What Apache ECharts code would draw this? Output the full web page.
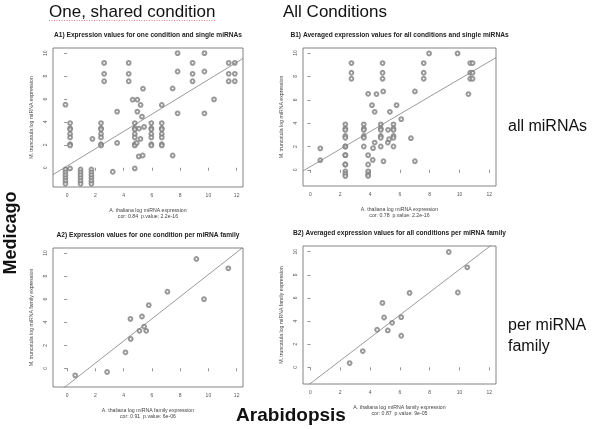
<!DOCTYPE html>
<html><head><meta charset="utf-8">
<script src="https://cdn.jsdelivr.net/npm/echarts@6/dist/echarts.min.js"></script>
<style>html,body{margin:0;padding:0;background:#fff}#c{width:600px;height:429px}</style>
</head><body><div id="c"></div>
<script>
// ---------- data ----------
const xTicks = [0, 2, 4, 6, 8, 10, 12];
const yTicks = [0, 2, 4, 6, 8, 10];

// A1: one condition, single miRNAs
const a1x = [-0.12,-0.12,-0.12,-0.12,-0.12,-0.12,-0.12,
  0.21,0.21,0.21,0.21,0.21,0.21,0.21,0.21,
  0.95,0.95,0.95,0.95,0.95,0.95,
  1.72,1.72,1.72,1.72,1.72,1.72, 1.79,
  2.4,2.4,2.4,2.4,2.4,2.4,2.4, 2.62,2.62,2.62,
  3.23, 3.54,3.54, 4.36,4.36,4.36,
  4.64,4.97,4.97,5.2,5.3,5.37,
  4.79,4.79,4.79,4.79,4.79,4.79,4.79,4.79,
  4.93,5.09,5.19,5.07,5.35,5.45,
  5.96,5.96,5.96,5.96,5.96,5.96,5.96,
  6.7,6.7,6.7,6.7,6.7,6.7,6.7,
  6.7,7.47,7.47, 7.82,7.82,7.82, 8.88,8.88,8.88,
  9.72,9.72,9.72, 10.4, 11.44,11.44,11.44, 11.87,11.87,11.87];
const a1y = [5.5,-0.15,-0.4,-0.65,-0.9,-1.15,-1.4,
  3.9,3.45,3.35,2.95,2.65,2.05,1.95,-0.06,
  -0.15,-0.4,-0.65,-0.9,-1.15,-1.4,
  -0.15,-0.4,-0.65,-0.9,-1.15,-1.4, 2.52,
  3.9,3.45,3.35,2.95,2.65,2.05,1.95, 9.15,8.2,7.55,
  -0.35, 4.9,2.17, 9.15,8.2,7.55,
  5.94,5.94,4.9,5.48,4.46,6.9,
  3.9,3.45,3.35,2.95,2.65,2.05,1.95,-0.06,
  2.17,3.42,2.52,0.99,1.07,3.57,
  3.9,3.45,3.35,2.95,2.65,2.05,1.95,
  3.9,3.45,3.35,2.95,2.65,2.05,1.95,
  5.48,1.07,6.92, 10.0,8.4,4.75, 9.15,8.2,7.55,
  10.0,8.4,4.75, 5.97, 9.15,8.2,7.55, 9.15,8.2,7.55];
const a1Fit = [0.15, 0.754]; // intercept, slope

// B1: averaged over all conditions, single miRNAs
const b1x = [0.66,0.66,
  2.34,2.34,2.34,2.34,2.34,2.34,2.34,2.34,2.34,2.34,2.34,2.34,2.34,2.34,
  2.75,2.75,2.75,
  3.58,3.58,3.58,3.58,3.58,3.58,
  3.87,3.87,3.87,3.87,3.87,3.87,
  4.2,4.18,4.13,4.31,4.31,4.43,
  4.84,4.84,4.84,
  4.72,4.72,4.72,4.72,4.72,4.72,
  4.88,4.9,5.19,5.28,5.21,5.33,
  5.57,5.57,5.57,5.57,5.57,5.57,
  5.78,6.09,6.74,7.01,7.01,
  7.6,7.6,7.6,7.96,9.87,10.6,
  10.72,10.72,10.72,10.88,10.88,10.88];
const b1y = [1.84,0.83,
  3.9,3.54,3.42,2.9,2.75,2.0,2.0,1.26,1.26,0.46,0.46,-0.12,-0.35,-0.53,
  9.14,8.31,7.8,
  3.9,3.54,3.42,2.9,2.75,2.0,
  6.51,1.26,0.46,-0.12,-0.38,-0.52,
  1.86,0.86,5.54,4.97,2.34,6.49,
  9.14,8.31,7.8,
  3.9,3.54,3.42,2.9,2.75,2.0,
  6.71,0.74,2.34,2.63,3.43,4.97,
  3.9,3.54,3.42,2.9,2.75,2.0,
  5.54,4.34,2.71,6.71,0.74,
  9.14,8.31,7.8,9.97,9.97,6.49,
  9.14,8.31,7.8,9.14,8.31,7.8];
const b1Fit = [0.28, 0.749];

// A2: one condition, per miRNA family
const a2x = [0.57,2.83,4.13,4.48,4.5,5.12,5.3,5.45,5.6,5.78,7.1,9.15,9.69,11.41];
const a2y = [-0.61,-0.32,1.39,4.29,2.55,3.25,4.49,3.62,3.25,5.48,6.64,9.48,6.0,8.67];
const a2Fit = [-1.47, 0.96];

// B2: averaged over all conditions, per miRNA family
const b2x = [2.63,3.51,4.47,4.83,4.94,5.19,5.48,6.09,6.09,6.65,9.28,9.89,10.52];
const b2y = [0.37,1.41,3.25,5.57,4.31,3.19,3.85,4.34,2.73,6.44,9.97,6.47,8.65];
const b2Fit = [-1.39, 0.985];

const panelTitles = [
  'A1) Expression values for one condition and single miRNAs',
  'B1) Averaged expression values for all conditions and single miRNAs',
  'A2) Expression values for one condition per miRNA family',
  'B2) Averaged expression values for all conditions per miRNA family'];
const xTitles = ['A. thaliana log miRNA expression','A. thaliana log miRNA expression',
  'A. thaliana log miRNA family expression','A. thaliana log miRNA family expression'];
const yTitles = ['M. truncatula log miRNA expression','M. truncatula log miRNA expression',
  'M. truncatula log miRNA family expression','M. truncatula log miRNA family expression'];
const corTexts = ['cor: 0.84  p.value: 2.2e-16','cor: 0.78  p.value: 2.2e-16',
  'cor: 0.91  p.value: 6e-06','cor: 0.87  p.value: 9e-05'];

// ---------- layout ----------
const panels = [
  {x:a1x, y:a1y, fit:a1Fit, grid:{left:53, top:48, width:190, height:139}, xr:[-1.0,12.45], yr:[-1.68,10.45]},
  {x:b1x, y:b1y, fit:b1Fit, grid:{left:303, top:48, width:193, height:138}, xr:[-0.5,12.45], yr:[-1.38,10.43]},
  {x:a2x, y:a2y, fit:a2Fit, grid:{left:53, top:248, width:190, height:139}, xr:[-1.0,12.45], yr:[-1.62,10.43]},
  {x:b2x, y:b2y, fit:b2Fit, grid:{left:303, top:246, width:193, height:138}, xr:[-0.5,12.45], yr:[-1.44,10.49]}
];

const grids=[], xAxes=[], yAxes=[], series=[], graphics=[];
const small = 'Liberation Sans Narrow, Arial Narrow, Liberation Sans, Arial, sans-serif';
panels.forEach((p,i)=>{
  grids.push(Object.assign({show:true, borderColor:'#666', borderWidth:0.8, backgroundColor:'transparent'}, p.grid));
  xAxes.push({type:'value', gridIndex:i, min:p.xr[0], max:p.xr[1],
    axisLine:{show:false}, splitLine:{show:false},
    axisTick:{show:true, customValues:xTicks, length:3, lineStyle:{color:'#666', width:0.7}},
    axisLabel:{show:true, customValues:xTicks, fontSize:5, color:'#555', margin:6, fontFamily:'Liberation Sans, Arial, sans-serif'}});
  yAxes.push({type:'value', gridIndex:i, min:p.yr[0], max:p.yr[1],
    axisLine:{show:false}, splitLine:{show:false},
    axisTick:{show:true, customValues:yTicks, length:3, lineStyle:{color:'#666', width:0.7}},
    axisLabel:{show:true, customValues:yTicks, fontSize:5, color:'#555', margin:5, rotate:90, fontFamily:'Liberation Sans, Arial, sans-serif'}});
  series.push({type:'scatter', xAxisIndex:i, yAxisIndex:i, symbol:'emptyCircle', symbolSize:3.8,
    itemStyle:{color:'#808080', borderWidth:0.55}, silent:true, animation:false,
    data:p.x.map((v,k)=>[v,p.y[k]])});
  const f = p.fit;
  series.push({type:'line', xAxisIndex:i, yAxisIndex:i, showSymbol:false, silent:true, animation:false,
    lineStyle:{color:'#808080', width:0.8}, clip:true,
    data:[[p.xr[0], f[0]+f[1]*p.xr[0]],[p.xr[1], f[0]+f[1]*p.xr[1]]]});
  const g = p.grid, cx = g.left + g.width/2;
  graphics.push({type:'text', x:cx, y:g.top-13, style:{text:panelTitles[i], font:'bold 6.6px '+small, fill:'#222', textAlign:'center', textVerticalAlign:'middle'}});
  graphics.push({type:'text', x:cx, y:g.top+g.height+24, style:{text:xTitles[i], font:'5.2px Liberation Sans, Arial, sans-serif', fill:'#444', textAlign:'center', textVerticalAlign:'middle'}});
  graphics.push({type:'text', x:cx, y:g.top+g.height+30, style:{text:corTexts[i], font:'5.2px Liberation Sans, Arial, sans-serif', fill:'#444', textAlign:'center', textVerticalAlign:'middle'}});
  graphics.push({type:'text', x:g.left-21, y:g.top+g.height/2, rotation:Math.PI/2, style:{text:yTitles[i], font:'5.2px Liberation Sans, Arial, sans-serif', fill:'#444', textAlign:'center', textVerticalAlign:'middle'}});
});

graphics.push(
  {type:'text', x:49, y:12, style:{text:'One, shared condition', font:'17px Liberation Sans, Arial, sans-serif', fill:'#111', textAlign:'left', textVerticalAlign:'middle'}},
  {type:'line', shape:{x1:49, y1:20.5, x2:215, y2:20.5}, style:{stroke:'#d66', lineWidth:0.8, lineDash:[1,1.5]}},
  {type:'text', x:283, y:12, style:{text:'All Conditions', font:'17px Liberation Sans, Arial, sans-serif', fill:'#111', textAlign:'left', textVerticalAlign:'middle'}},
  {type:'text', x:508, y:127, style:{text:'all miRNAs', font:'16px Liberation Sans, Arial, sans-serif', fill:'#111', textAlign:'left', textVerticalAlign:'middle'}},
  {type:'text', x:508, y:326, style:{text:'per miRNA', font:'16px Liberation Sans, Arial, sans-serif', fill:'#111', textAlign:'left', textVerticalAlign:'middle'}},
  {type:'text', x:508, y:347, style:{text:'family', font:'16px Liberation Sans, Arial, sans-serif', fill:'#111', textAlign:'left', textVerticalAlign:'middle'}},
  {type:'text', x:11, y:233, rotation:Math.PI/2, style:{text:'Medicago', font:'bold 18px Liberation Sans, Arial, sans-serif', fill:'#111', textAlign:'center', textVerticalAlign:'middle'}},
  {type:'text', x:291, y:416, style:{text:'Arabidopsis', font:'bold 19px Liberation Sans, Arial, sans-serif', fill:'#111', textAlign:'center', textVerticalAlign:'middle'}}
);

const chart = echarts.init(document.getElementById('c'), null, {renderer:'canvas'});
chart.setOption({animation:false, backgroundColor:'#fff', grid:grids, xAxis:xAxes, yAxis:yAxes, series:series, graphic:graphics});
</script></body></html>
